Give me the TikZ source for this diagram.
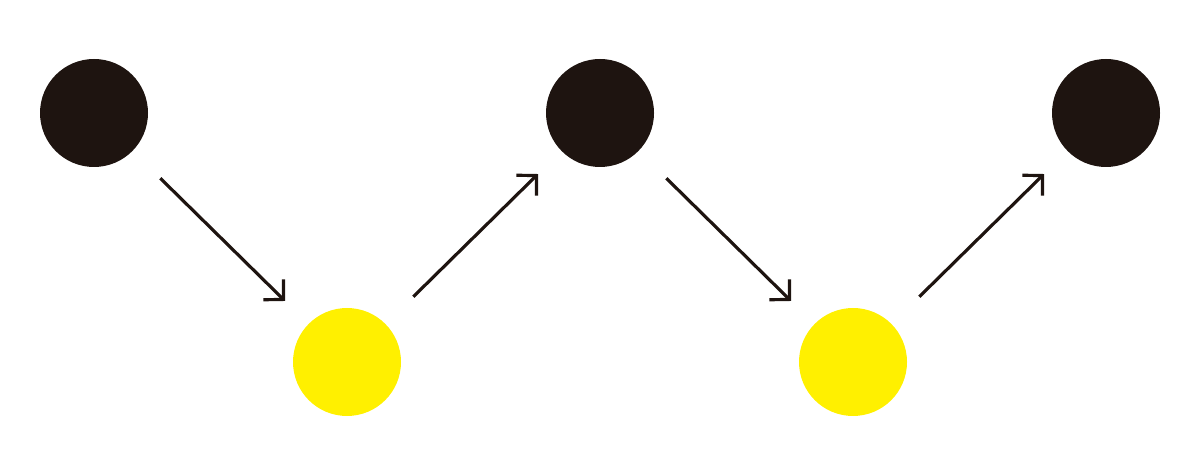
\documentclass[tikz,border=0pt]{standalone}
\usetikzlibrary{arrows.meta}
\definecolor{darkdot}{RGB}{30,20,16}
\definecolor{yellowdot}{RGB}{255,240,0}
\begin{document}
\begin{tikzpicture}[
        blackdot/.style={circle, fill=darkdot, minimum size=2.16cm, inner sep=0pt},
        yellowdot/.style={circle, fill=yellowdot, minimum size=2.16cm, inner sep=0pt},
        link/.style={draw=darkdot, line width=1.8pt, shorten <=1.86cm, shorten >=1.74cm,
          -{Straight Barb[length=0.28cm, width=0.57cm]}}
      ]
        \useasboundingbox (0,0) rectangle (24,9.5);

        \node (b1) [blackdot] at (1.88,7.24) {};
        \node (b2) [blackdot] at (12,7.24) {};
        \node (b3) [blackdot] at (22.12,7.24) {};

        \node (y1) [yellowdot] at (6.94,2.26) {};
        \node (y2) [yellowdot] at (17.06,2.26) {};

        \draw [link] (b1.center) -- (y1.center);
        \draw [link] (y1.center) -- (b2.center);
        \draw [link] (b2.center) -- (y2.center);
        \draw [link] (y2.center) -- (b3.center);
      \end{tikzpicture}
\end{document}
